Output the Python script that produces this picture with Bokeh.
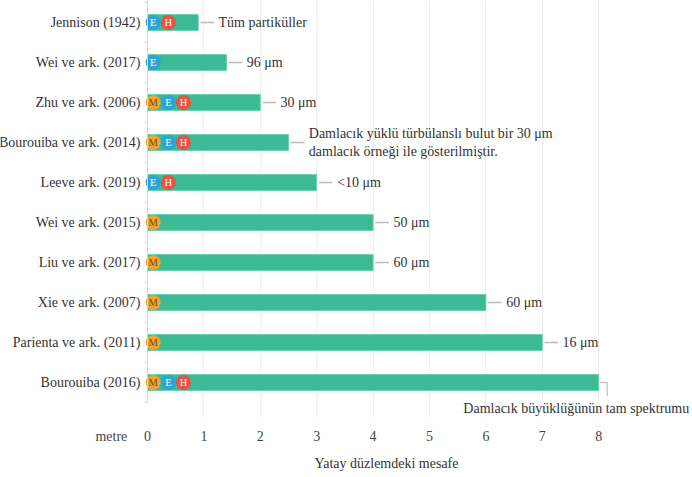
from bokeh.plotting import figure
from bokeh.models import FixedTicker, Range1d, Title
from bokeh.core.properties import value
from bokeh.embed import file_html
from bokeh.resources import INLINE

# ---- data ----
studies = ["Jennison (1942)", "Wei ve ark. (2017)", "Zhu ve ark. (2006)",
           "Bourouiba ve ark. (2014)", "Leeve ark. (2019)", "Wei ve ark. (2015)",
           "Liu ve ark. (2017)", "Xie ve ark. (2007)", "Parienta ve ark. (2011)",
           "Bourouiba (2016)"]
distances = [0.9, 1.4, 2.0, 2.5, 3.0, 4.0, 4.0, 6.0, 7.0, 8.0]
notes = ["Tüm partiküller", "96 μm", "30 μm",
         "Damlacık yüklü türbülanslı bulut bir 30 μm\ndamlacık örneği ile gösterilmiştir.",
         "<10 μm", "50 μm", "60 μm", "60 μm", "16 μm",
         "Damlacık büyüklüğünün tam spektrumu"]
badges = [["E", "H"], ["E"], ["M", "E", "H"], ["M", "E", "H"], ["E", "H"],
          ["M"], ["M"], ["M"], ["M"], ["M", "E", "H"]]
x_ticks = [0, 1, 2, 3, 4, 5, 6, 7, 8]
x_unit = "metre"
x_title = "Yatay düzlemdeki mesafe"

# ---- style / layout ----
FONT = "'Liberation Serif', 'DejaVu Serif', serif"
FS = "14px"
BAR = "#3bba94"
TXT = "#333333"
LEAD = "#bbbbbb"
BADGE_FILL = {"M": "#f2a531", "E": "#2ea3d5", "H": "#e9523f"}
BADGE_TXT = {"M": "#7a4a10", "E": "#ffffff", "H": "#ffffff"}
UNIT_POS = -0.64          # where the unit word sits on the x axis
LAST_NOTE_X = 5.6         # left edge of the note under the last bar

rows = list(range(len(studies)))

p = figure(frame_width=692, frame_height=417, output_backend="svg",
           toolbar_location=None,
           x_range=Range1d(-2.606, 9.663), y_range=Range1d(9.875, -0.55),
           min_border_left=0, min_border_right=0, min_border_top=0,
           min_border_bottom=40)
p.outline_line_color = None

# grid
p.ygrid.grid_line_color = None
p.xgrid.grid_line_color = "#efefef"
p.xgrid.ticker = FixedTicker(ticks=x_ticks[1:])

# bars
p.hbar(y=rows, left=0, right=distances, height=0.4, fill_color=BAR,
       line_color="#6fd0b2", line_width=1)

# badges
bx, by, bl, bf, bt = [], [], [], [], []
for r, bs in zip(rows, badges):
    for i, b in enumerate(bs):
        bx.append(0.1 + i * 0.27)
        by.append(r)
        bl.append(b)
        bf.append(BADGE_FILL[b])
        bt.append(BADGE_TXT[b])
p.scatter(x=bx, y=by, size=15, fill_color=bf, line_color=None)
p.text(x=bx, y=by, text=bl, text_color=bt, text_font=value(FONT),
       text_font_size="10.5px", text_align="center", text_baseline="middle")

# leader lines and notes
p.segment(x0=[d + 0.04 for d in distances[:-1]], y0=rows[:-1],
          x1=[d + 0.28 for d in distances[:-1]], y1=rows[:-1],
          line_color=LEAD, line_width=1.5)
last_d = distances[-1]
p.line(x=[last_d + 0.02, last_d + 0.15, last_d + 0.15],
       y=[rows[-1], rows[-1], rows[-1] + 0.33], line_color=LEAD, line_width=1.2)

p.text(x=[d + 0.36 for d in distances[:-1]], y=rows[:-1], text=notes[:-1],
       text_font=value(FONT), text_font_size=FS, text_color=TXT,
       text_baseline="middle", text_align="left", text_line_height=1.2)
p.text(x=[LAST_NOTE_X], y=[rows[-1] + 0.65], text=[notes[-1]],
       text_font=value(FONT), text_font_size=FS, text_color=TXT,
       text_baseline="middle", text_align="left")

# x axis (with unit word)
p.xaxis.ticker = FixedTicker(ticks=[UNIT_POS] + x_ticks)
p.xaxis.major_label_overrides = {UNIT_POS: x_unit}
p.xaxis.axis_line_color = None
p.xaxis.major_tick_line_color = None
p.xaxis.minor_tick_line_color = None
p.xaxis.major_tick_out = 0
p.xaxis.major_label_standoff = 11
p.xaxis.major_label_text_font = FONT
p.xaxis.major_label_text_font_size = FS
p.xaxis.major_label_text_color = "#444444"

# axis title, placed right of the frame centre as in the original
p.add_layout(Title(text=x_title, align="left", offset=314, standoff=15,
                   text_font=FONT, text_font_size=FS, text_font_style="normal",
                   text_color=TXT), "below")

# y axis drawn at x = 0
p.yaxis.fixed_location = 0
p.yaxis.bounds = (-0.55, rows[-1] + 0.5)
p.yaxis.ticker = FixedTicker(ticks=rows,
                             minor_ticks=[r - 0.5 for r in rows] + [rows[-1] + 0.5])
p.yaxis.major_label_overrides = {r: s for r, s in zip(rows, studies)}
p.yaxis.axis_line_color = "#d6d6d6"
p.yaxis.major_tick_line_color = None
p.yaxis.major_tick_out = 0
p.yaxis.major_tick_in = 0
p.yaxis.minor_tick_line_color = "#d6d6d6"
p.yaxis.minor_tick_out = 3
p.yaxis.minor_tick_in = 0
p.yaxis.major_label_standoff = 4
p.yaxis.major_label_text_font = FONT
p.yaxis.major_label_text_font_size = FS
p.yaxis.major_label_text_color = TXT

open("out.html", "w").write(file_html(p, INLINE))
